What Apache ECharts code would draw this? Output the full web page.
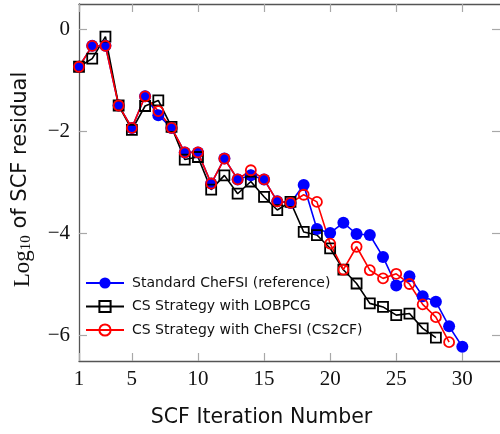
<!DOCTYPE html>
<html><head><meta charset="utf-8">
<script src="https://cdn.jsdelivr.net/npm/echarts@6/dist/echarts.min.js"></script>
<style>html,body{margin:0;padding:0;background:#fff}#c{width:500px;height:434px}</style>
</head><body><div id="c"></div>
<script>
const xTicks = [1, 5, 10, 15, 20, 25, 30];
const yTicks = [-6, -4, -2, 0];
const iterStd = [1,2,3,4,5,6,7,8,9,10,11,12,13,14,15,16,17,18,19,20,21,22,23,24,25,26,27,28,29,30];
const standardCheFSI = [-0.73,-0.32,-0.32,-1.49,-1.93,-1.31,-1.68,-1.93,-2.41,-2.41,-3.02,-2.53,-2.94,-2.86,-2.94,-3.37,-3.40,-3.05,-3.91,-3.99,-3.79,-4.01,-4.03,-4.46,-5.02,-4.84,-5.23,-5.34,-5.82,-6.22];
const iterLob = [1,2,3,4,5,6,7,8,9,10,11,12,13,14,15,16,17,18,19,20,21,22,23,24,25,26,27,28];
const csLOBPCG = [-0.73,-0.57,-0.14,-1.49,-1.97,-1.50,-1.39,-1.91,-2.55,-2.50,-3.14,-2.86,-3.22,-2.98,-3.28,-3.54,-3.38,-3.97,-4.03,-4.29,-4.71,-4.98,-5.37,-5.44,-5.60,-5.57,-5.86,-6.04];
const iterCS2CF = [1,2,3,4,5,6,7,8,9,10,11,12,13,14,15,16,17,18,19,20,21,22,23,24,25,26,27,28,29];
const cs2cf = [-0.73,-0.32,-0.32,-1.49,-1.93,-1.31,-1.60,-1.93,-2.41,-2.41,-3.02,-2.53,-2.94,-2.76,-2.94,-3.37,-3.40,-3.24,-3.38,-4.20,-4.71,-4.26,-4.72,-4.88,-4.79,-4.99,-5.39,-5.64,-6.13];

const zip = (a, b) => a.map((v, i) => [v, b[i]]);
const frame = '#555';
const tickC = '#a8a8a8';
const serif = 'Liberation Serif';
const sans = 'DejaVu Sans';
const XMAX = 32.85;

const chart = echarts.init(document.getElementById('c'));
chart.setOption({
  animation: false,
  grid: { left: 72, right: -2, top: 4, bottom: 73 },
  legend: {
    left: 85, top: 276, orient: 'vertical', padding: 0,
    itemWidth: 38, itemHeight: 14, itemGap: 9.5,
    textStyle: { fontFamily: sans, fontSize: 14, color: '#111', padding: [0, 0, 0, 3] },
    data: ['Standard CheFSI (reference)', 'CS Strategy with LOBPCG', 'CS Strategy with CheFSI (CS2CF)']
  },
  xAxis: [{
    type: 'value', min: 1, max: XMAX,
    name: 'SCF Iteration Number', nameLocation: 'middle', nameGap: 46,
    nameTextStyle: { fontFamily: sans, fontSize: 20.5, color: '#111', padding: [0, 56, 0, 0] },
    axisLine: { onZero: false, lineStyle: { color: frame, width: 1.3 } },
    axisTick: { inside: true, length: 8, customValues: xTicks, lineStyle: { color: tickC, width: 1.2 } },
    axisLabel: { customValues: xTicks, margin: 8, fontFamily: serif, fontSize: 21, color: '#111' },
    splitLine: { show: false }
  }, {
    type: 'value', min: 1, max: XMAX, position: 'top',
    axisLine: { show: true, onZero: false, lineStyle: { color: frame, width: 1.3 } },
    axisTick: { inside: true, length: 8, customValues: xTicks, lineStyle: { color: tickC, width: 1.2 } },
    axisLabel: { show: false }, splitLine: { show: false }
  }],
  yAxis: [{
    type: 'value', min: -6.5, max: 0.5,
    name: '{l|Log}{s|10} of SCF residual', nameLocation: 'middle', nameGap: 45, nameRotate: 90,
    nameTextStyle: {
      fontFamily: sans, fontSize: 21, color: '#111', padding: [0, 0, 0, 6],
      rich: {
        l: { fontFamily: serif, fontSize: 23, color: '#111', lineHeight: 26, verticalAlign: 'bottom' },
        s: { fontFamily: serif, fontSize: 15, color: '#111', lineHeight: 26, verticalAlign: 'bottom', padding: [11, 0, 0, 0] }
      }
    },
    axisLine: { onZero: false, lineStyle: { color: frame, width: 1.3 } },
    axisTick: { inside: true, length: 8, customValues: yTicks, lineStyle: { color: tickC, width: 1.2 } },
    axisLabel: { customValues: yTicks, margin: 9, fontFamily: serif, fontSize: 21, color: '#111',
      formatter: v => String(v).replace('-', '\u2212') },
    splitLine: { show: false }
  }, {
    type: 'value', min: -6.5, max: 0.5, position: 'right',
    axisLine: { show: false, onZero: false },
    axisTick: { show: true, inside: true, length: 8, customValues: yTicks, lineStyle: { color: tickC, width: 1.2 } },
    axisLabel: { show: false }, splitLine: { show: false }
  }],
  series: [{
    name: 'Standard CheFSI (reference)', type: 'line', data: zip(iterStd, standardCheFSI),
    symbol: 'circle', symbolSize: 12,
    itemStyle: { color: '#0000ff' }, lineStyle: { color: '#0000ff', width: 1.6 }
  }, {
    name: 'CS Strategy with LOBPCG', type: 'line', data: zip(iterLob, csLOBPCG),
    symbol: 'rect', symbolSize: 10,
    itemStyle: { color: 'rgba(255,255,255,0)', borderColor: '#000', borderWidth: 1.8 },
    lineStyle: { color: '#000', width: 1.6 }
  }, {
    name: 'CS Strategy with CheFSI (CS2CF)', type: 'line', data: zip(iterCS2CF, cs2cf),
    symbol: 'circle', symbolSize: 10,
    itemStyle: { color: 'rgba(255,255,255,0)', borderColor: '#ff0000', borderWidth: 1.8 },
    lineStyle: { color: '#ff0000', width: 1.6 }
  }]
});
</script></body></html>
